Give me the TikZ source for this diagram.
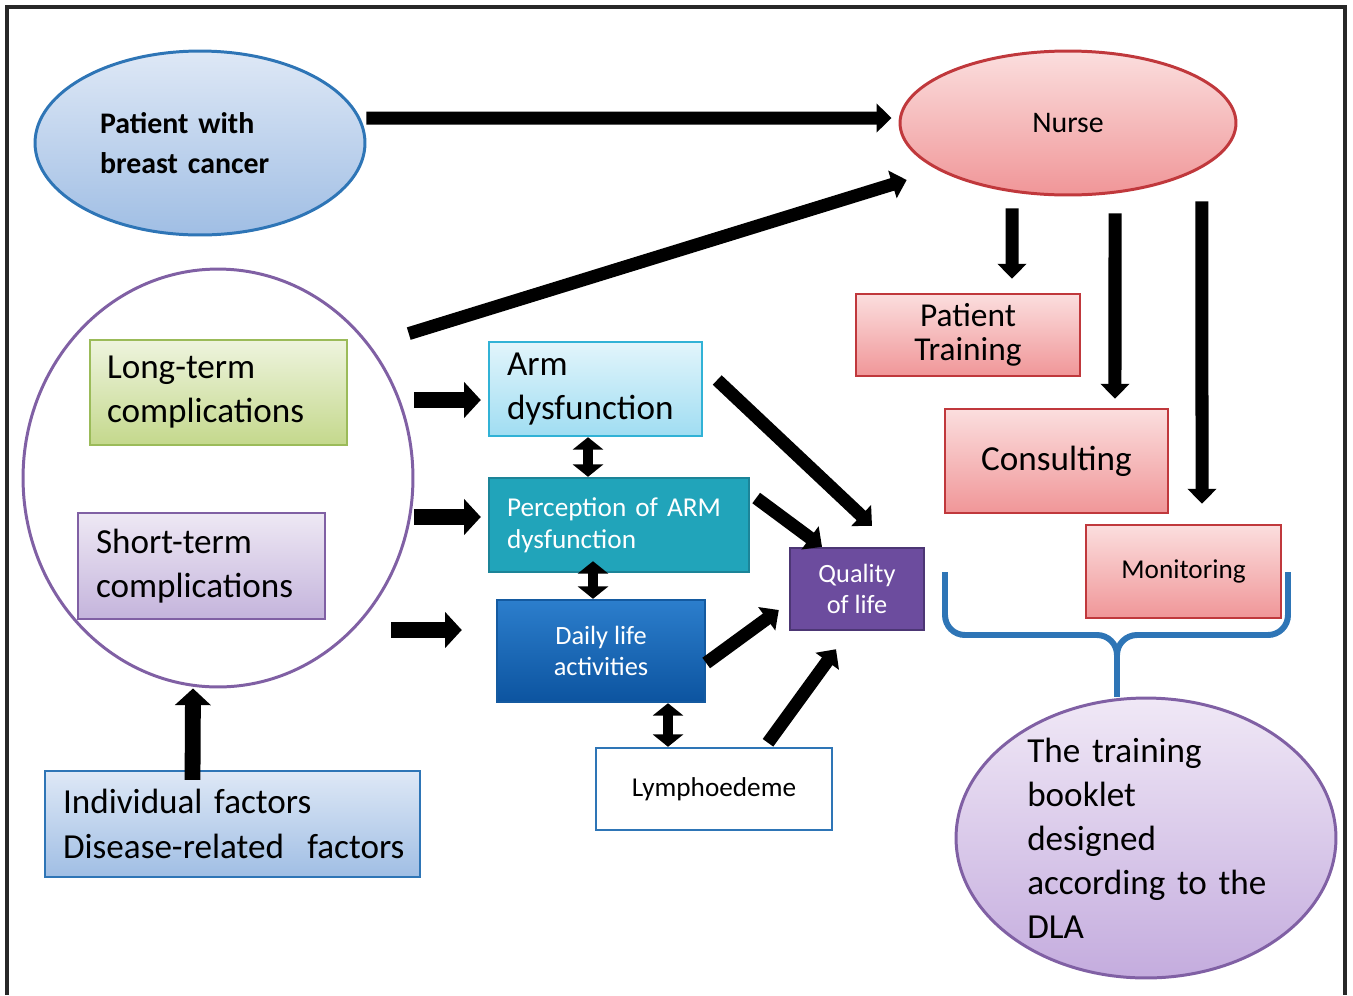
\documentclass[tikz,border=0pt]{standalone}
\usepackage{fontspec}
\setmainfont{Carlito}
\usepackage{xcolor}
\usetikzlibrary{arrows.meta, shapes.geometric}

\definecolor{blueline}{RGB}{46,117,182}
\definecolor{patTop}{RGB}{222,232,246}
\definecolor{patBot}{RGB}{160,190,228}
\definecolor{redline}{RGB}{192,56,60}
\definecolor{redTop}{RGB}{251,222,222}
\definecolor{redBot}{RGB}{240,150,152}
\definecolor{purpleline}{RGB}{128,96,164}
\definecolor{greenline}{RGB}{155,187,89}
\definecolor{greenTop}{RGB}{238,244,222}
\definecolor{greenBot}{RGB}{196,216,140}
\definecolor{lilacTop}{RGB}{238,232,244}
\definecolor{lilacBot}{RGB}{196,180,220}
\definecolor{cyanline}{RGB}{49,178,214}
\definecolor{cyanTop}{RGB}{226,245,251}
\definecolor{cyanBot}{RGB}{160,221,242}
\definecolor{tealfill}{RGB}{33,164,186}
\definecolor{tealline}{RGB}{28,132,152}
\definecolor{dailyTop}{RGB}{44,126,204}
\definecolor{dailyBot}{RGB}{12,84,160}
\definecolor{dailyline}{RGB}{20,90,160}
\definecolor{qolfill}{RGB}{108,76,158}
\definecolor{qolline}{RGB}{76,54,116}
\definecolor{bookTop}{RGB}{240,232,246}
\definecolor{bookBot}{RGB}{196,172,222}
\definecolor{frameline}{RGB}{40,40,40}

\begin{document}
\begin{tikzpicture}[
  x=0.02cm, y=-0.02cm,
  every node/.style={align=center, inner sep=0pt},
  oval/.style={ellipse, line width=1.7pt},
  box/.style={rectangle, line width=1.4pt},
  bigarrow/.style={-{Triangle[length=8.5pt,width=16pt]}, line width=7.4pt},
  midarrow/.style={-{Triangle[length=9.5pt,width=20pt]}, line width=9pt},
  dblarrow/.style={{Triangle[length=7pt,width=17pt]}-{Triangle[length=7pt,width=17pt]}, line width=5.5pt},
  brace/.style={draw=blueline, line width=3.4pt}
]
\useasboundingbox (0,0) rectangle (1353,995);
\draw[line width=2.2pt, frameline] (7,995) -- (7,7) -- (1345,7) -- (1345,995);

% Top row
\node[oval, draw=blueline, top color=patTop, bottom color=patBot,
  minimum width=6.6cm, minimum height=3.68cm, text width=4cm, align=left,
  font=\bfseries\fontsize{17}{22.7}\selectfont] (patient) at (200,143) {Patient with\\breast cancer};
\node[oval, draw=redline, top color=redTop, bottom color=redBot,
  minimum width=6.72cm, minimum height=2.88cm, font=\fontsize{17}{20}\selectfont] (nurse) at (1068,123) {Nurse};

\draw[bigarrow] ([yshift=0.5cm]patient.east) -- ([xshift=-0.14cm,yshift=0.1cm]nurse.west);

% Complications
\node[oval, draw=purpleline, fill=white, minimum width=7.8cm, minimum height=8.36cm] (compl) at (218,478) {};
\node[box, draw=greenline, top color=greenTop, bottom color=greenBot, minimum width=5.14cm, minimum height=2.1cm,
  text width=4.46cm, align=left, font=\fontsize{20}{25}\selectfont] (longterm) at (218.5,392.5) {Long-term\\complications};
\node[box, draw=purpleline, top color=lilacTop, bottom color=lilacBot, minimum width=4.94cm, minimum height=2.12cm,
  text width=4.22cm, align=left, font=\fontsize{20}{25}\selectfont] (shortterm) at (201.5,566) {Short-term\\complications};
\node[box, draw=blueline, top color=patTop, bottom color=patBot, minimum width=7.5cm, minimum height=2.12cm,
  text width=6.78cm, align=left, font=\fontsize{20}{25.5}\selectfont] (indiv) at (232.5,824)
  {\mbox{Individual factors}\\\mbox{Disease-related\ \ factors}};

\draw[midarrow] ([xshift=-0.8cm,yshift=-0.2cm]indiv.north) -- ([xshift=-0.5cm]compl.south);
\draw[bigarrow, shorten <=0.8cm, shorten >=0.66cm] (compl.41) -- (nurse.200.6);

% Middle column
\node[box, draw=cyanline, top color=cyanTop, bottom color=cyanBot, minimum width=4.26cm, minimum height=1.88cm,
  text width=3.54cm, align=left, font=\fontsize{20}{25}\selectfont] (arm) at (595.5,389) {Arm\\dysfunction};
\node[box, draw=tealline, fill=tealfill, text=white, minimum width=5.2cm, minimum height=1.88cm,
  text width=4.48cm, align=left, font=\fontsize{15.5}{18}\selectfont] (perc) at (619,525) {\mbox{Perception of ARM}\\dysfunction};
\node[box, draw=dailyline, top color=dailyTop, bottom color=dailyBot, text=white, minimum width=4.16cm, minimum height=2.04cm,
  font=\fontsize{15}{18}\selectfont] (daily) at (601,651) {Daily life\\activities};
\node[box, draw=blueline, fill=white, minimum width=4.72cm, minimum height=1.64cm,
  font=\fontsize{15.5}{18}\selectfont] (lymph) at (714,789) {Lymphoedeme};
\node[box, draw=qolline, fill=qolfill, text=white, minimum width=2.68cm, minimum height=1.64cm,
  font=\fontsize{15}{17.6}\selectfont] (quality) at (857,589) {Quality\\of life};

\draw[midarrow] ([yshift=-0.22cm]compl.east |- arm.west) -- ([xshift=-0.14cm,yshift=-0.22cm]arm.west);
\draw[midarrow] ([yshift=0.16cm]compl.east |- perc.west) -- ([xshift=-0.14cm,yshift=0.16cm]perc.west);
\draw[midarrow] ([xshift=-0.46cm,yshift=0.42cm]compl.east |- daily.west) -- ([xshift=-0.68cm,yshift=0.42cm]daily.west);

\draw[dblarrow] ([xshift=-0.15cm]arm.south) -- ([xshift=-0.15cm]arm.south |- perc.north);
\draw[dblarrow] ([xshift=-0.16cm,yshift=0.24cm]daily.north |- perc.south) -- ([xshift=-0.16cm]daily.north);
\draw[dblarrow] ([xshift=-0.92cm]lymph.north |- daily.south) -- ([xshift=-0.92cm]lymph.north);

\draw[bigarrow] ([xshift=0.28cm,yshift=0.18cm]arm.east) -- ([xshift=0.3cm,yshift=0.42cm]quality.north);
\draw[bigarrow] ([xshift=0.12cm,yshift=0.54cm]perc.east) -- ([xshift=-0.7cm]quality.north);
\draw[bigarrow] ([yshift=-0.24cm]daily.east) -- ([xshift=-0.2cm,yshift=-0.42cm]quality.west);
\draw[bigarrow] ([xshift=1.08cm,yshift=0.08cm]lymph.north) -- ([xshift=-0.42cm,yshift=-0.36cm]quality.south);

% Nurse column
\node[box, draw=redline, top color=redTop, bottom color=redBot, minimum width=4.48cm, minimum height=1.64cm,
  font=\fontsize{19}{19.3}\selectfont] (training) at (968,335) {Patient\\Training};
\node[box, draw=redline, top color=redTop, bottom color=redBot, minimum width=4.46cm, minimum height=2.08cm,
  font=\fontsize{20}{24}\selectfont] (consult) at (1056.5,461) {Consulting};
\node[box, draw=redline, top color=redTop, bottom color=redBot, minimum width=3.9cm, minimum height=1.86cm,
  font=\fontsize{15.5}{18}\selectfont] (monitor) at (1183.5,571.5) {Monitoring};

\draw[bigarrow] ([xshift=-1.12cm,yshift=-0.24cm]nurse.south) -- ([xshift=0.88cm,yshift=0.28cm]training.north);
\draw[bigarrow] ([xshift=0.94cm,yshift=-0.34cm]nurse.south) -- ([xshift=1.17cm,yshift=0.18cm]consult.north);
\draw[bigarrow] ([xshift=2.68cm,yshift=-0.1cm]nurse.south) -- ([xshift=0.37cm,yshift=0.4cm]monitor.north);

% Booklet and brace
\node[oval, draw=purpleline, top color=bookTop, bottom color=bookBot, minimum width=7.6cm, minimum height=5.6cm,
  text width=4.75cm, inner ysep=-0.6cm, align=left, font=\fontsize{20}{25}\selectfont] (booklet) at (1146,838)
  {The training\\booklet\\designed\\\mbox{according to the}\\DLA};

\coordinate (bracetip) at (1117,655);
\draw[brace] (945,572) -- (945,615) to[out=-90,in=180] (965,635) -- (1097,635) to[out=0,in=90] (bracetip);
\draw[brace] (1288,572) -- (1288,615) to[out=-90,in=0] (1268,635) -- (1137,635) to[out=180,in=90] (bracetip);
\draw[brace] (bracetip) -- (bracetip |- booklet.north);
\end{tikzpicture}
\end{document}
